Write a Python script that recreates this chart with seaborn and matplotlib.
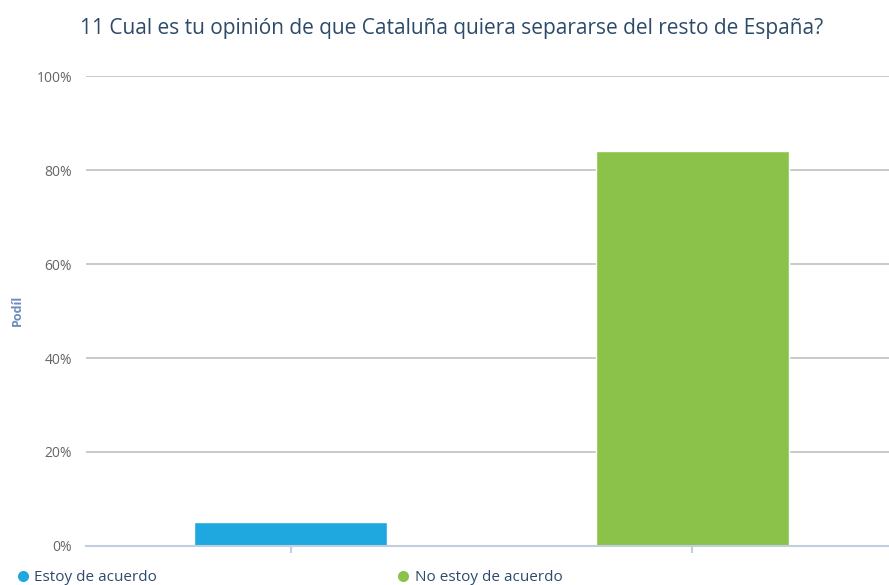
import matplotlib
matplotlib.use("Agg")
import matplotlib.pyplot as plt
import seaborn as sns
import pandas as pd
from matplotlib.lines import Line2D

categories = ["Estoy de acuerdo", "No estoy de acuerdo"]
values = [5, 84]
colors = ["#1fa8e0", "#8bc34a"]
yticks = [0, 20, 40, 60, 80, 100]
ytick_labels = ["0%", "20%", "40%", "60%", "80%", "100%"]

sns.set_theme(style="white")
plt.rcParams['font.family'] = ['Open Sans', 'DejaVu Sans']

df = pd.DataFrame({"cat": categories, "val": values})

fig = plt.figure(figsize=(8.89, 5.85), dpi=100)
ax = fig.add_axes([0.0967, 0.0667, 0.9033, 0.8033])

sns.barplot(data=df, x="cat", y="val", hue="cat", palette=colors, width=0.48,
            legend=False, ax=ax, saturation=1)

ax.set_ylim(0, 100)
ax.set_xlim(-0.51, 1.49)
ax.set_yticks(yticks)
ax.set_yticklabels(ytick_labels, color="#666666", fontsize=10)
ax.set_xticks([0, 1])
ax.set_xticklabels(["", ""])
ax.tick_params(axis="x", bottom=True, length=5, color="#c0cfe0", width=1.5, direction="out")
ax.tick_params(axis="y", length=0, pad=10)
for s in ["top", "right", "left"]:
    ax.spines[s].set_visible(False)
ax.spines["bottom"].set_color("#c0cfe0")
ax.spines["bottom"].set_linewidth(1.5)
ax.yaxis.grid(True, color="#c0c0c0", linewidth=1.2)
ax.set_axisbelow(True)
ax.set_xlabel("")
ax.set_ylabel("")

fig.text(0.019, 0.47, "Podíl", rotation=90, color="#6a8cbb", fontsize=9,
         fontweight="bold", ha="center", va="center")

fig.text(0.508, 0.951, "11 Cual es tu opinión de que Cataluña quiera separarse del resto de España?",
         ha="center", va="center", fontsize=15, color="#2d4a6b")

handles = [Line2D([0], [0], marker="o", color="w", markerfacecolor=c, markersize=9)
           for c in colors]
fig.legend(handles, categories, loc="lower left", bbox_to_anchor=(0.0, -0.024),
           ncol=2, frameon=False, fontsize=11, handletextpad=0.15, columnspacing=15.5,
           labelcolor="#2d4a6b", handlelength=1.2)

fig.savefig("out.png", dpi=100)
